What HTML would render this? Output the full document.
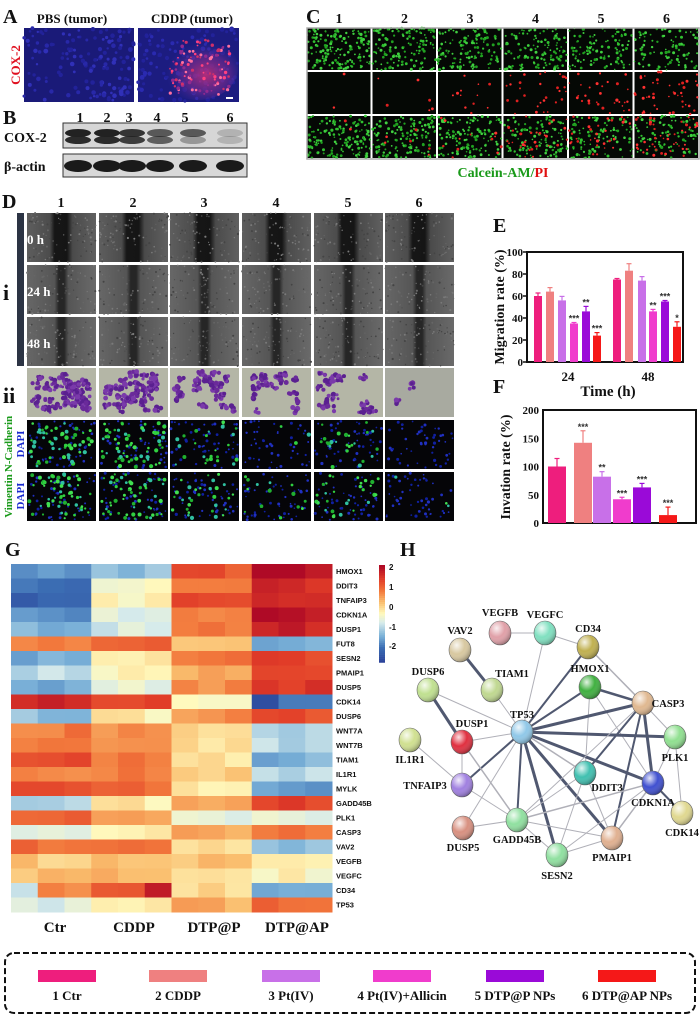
<!DOCTYPE html>
<html><head><meta charset="utf-8"><style>
html,body{margin:0;padding:0;background:#fff;}
svg{display:block;}
.L{font-family:"Liberation Serif",serif;font-weight:bold;}
.S{font-family:"Liberation Sans",sans-serif;font-weight:bold;}
</style></head><body>
<svg id="s" width="700" height="1018" viewBox="0 0 700 1018" xmlns="http://www.w3.org/2000/svg">
<defs>
<linearGradient id="wound" x1="0" x2="1" y1="0" y2="0">
<stop offset="0" stop-color="#5e5e5e"/><stop offset="0.33" stop-color="#4c4c4c"/><stop offset="0.4" stop-color="#161616"/><stop offset="0.58" stop-color="#151515"/><stop offset="0.66" stop-color="#4a4a4a"/><stop offset="1" stop-color="#606060"/></linearGradient>
<linearGradient id="wound2" x1="0" x2="1" y1="0" y2="0">
<stop offset="0" stop-color="#676767"/><stop offset="0.4" stop-color="#555"/><stop offset="0.46" stop-color="#262626"/><stop offset="0.54" stop-color="#262626"/><stop offset="0.6" stop-color="#555"/><stop offset="1" stop-color="#6a6a6a"/></linearGradient>
<radialGradient id="rred" cx="0.6" cy="0.6" r="0.5"><stop offset="0" stop-color="#c03078" stop-opacity="0.9"/><stop offset="0.6" stop-color="#702a90" stop-opacity="0.6"/><stop offset="1" stop-color="#2a2a9a" stop-opacity="0"/></radialGradient>
<radialGradient id="ball" cx="0.35" cy="0.3" r="0.75"><stop offset="0" stop-color="#fff" stop-opacity="0.85"/><stop offset="0.5" stop-color="#fff" stop-opacity="0"/><stop offset="1" stop-color="#000" stop-opacity="0.35"/></radialGradient>
</defs>
<g id="root"></g>
</svg>
<script>
var R=document.getElementById('root'),NS='http://www.w3.org/2000/svg';
function el(t,a,txt,p){var e=document.createElementNS(NS,t);for(var k in a)e.setAttribute(k,a[k]);if(txt!=null)e.textContent=txt;(p||R).appendChild(e);return e;}
function T(x,y,s,size,o){o=o||{};var a={x:x,y:y,'font-size':size,'class':o.c||'L',fill:o.f||'#111'};if(o.a)a['text-anchor']=o.a;if(o.tr)a.transform=o.tr;return el('text',a,s);}
var seed=7;function rnd(){seed=(seed*16807)%2147483647;return seed/2147483647;}
function dots(x,y,w,h,n,col,r){for(var i=0;i<n;i++)el('circle',{cx:(x+rnd()*w).toFixed(1),cy:(y+rnd()*h).toFixed(1),r:(r*(0.6+rnd()*0.6)).toFixed(1),fill:col[Math.floor(rnd()*col.length)]});}
// A
T(3,23,'A',20);T(72,23,'PBS (tumor)',13,{a:'middle'});T(192,23,'CDDP (tumor)',13,{a:'middle'});
el('rect',{x:24,y:28,width:110,height:74,fill:'#1a1a78'});dots(24,28,110,74,140,['#2828a8','#22229a','#3030b8'],2);
el('rect',{x:138,y:28,width:101,height:74,fill:'#1c1c80'});dots(138,28,101,74,120,['#2a2ab0','#22229a'],2);
el('ellipse',{cx:198,cy:68,rx:40,ry:32,fill:'url(#rred)'});dots(170,40,60,55,110,['#ff4080','#d0306a','#ff70a0','#902a90'],1.5);
el('rect',{x:226,y:97,width:7,height:2,fill:'#fff'});
T(0,0,'COX-2',13,{f:'#e01020',a:'middle',tr:'translate(20,65) rotate(-90)'});
// B
T(3,124,'B',20);var ln=[80,107,129,157,185,230];ln.forEach(function(x,i){T(x,122,''+(i+1),14,{a:'middle'});});
el('rect',{x:63,y:123,width:184,height:25,fill:'#d6d6d6',stroke:'#333','stroke-width':1});
el('rect',{x:63,y:154,width:184,height:23,fill:'#d8d8d8',stroke:'#333','stroke-width':1});
var bc=[78,107,132,160,193,230],ba=[1,1,0.9,0.7,0.7,0.2];
bc.forEach(function(x,i){el('ellipse',{cx:x,cy:133,rx:13,ry:4,fill:'#222','fill-opacity':ba[i]});el('ellipse',{cx:x,cy:140,rx:13,ry:4,fill:'#222','fill-opacity':ba[i]*(i==4?0.5:0.95)});el('ellipse',{cx:x,cy:166,rx:14,ry:6,fill:'#1a1a1a'});});
T(4,142,'COX-2',14);T(4,171,'β-actin',14);
// C
T(306,23,'C',20);
for(var c=0;c<6;c++){T(339+c*65.5,23,''+(c+1),14,{a:'middle'});
 for(var r=0;r<3;r++){var x=307+c*65.5,y=28+r*44,w=63.5,h=42;el('rect',{x:x,y:y,width:w,height:h,fill:'#050805'});
  if(r!=1)dots(x,y,w,h,150-c*12,['#30c030','#20a020','#40d040'],1.3);
  if(r>0)dots(x,y,w,h,[2,6,12,30,30,45][c],['#e02020','#ff3030'],1.3);}}
el('rect',{x:307,y:28,width:392,height:131,fill:'none',stroke:'#aaa','stroke-width':1.5});
el('text',{x:503,y:177,'font-size':14,'class':'L','text-anchor':'middle'}).innerHTML='<tspan fill="#1a9a1a">Calcein-AM/</tspan><tspan fill="#e01010">PI</tspan>';
// D
T(2,208,'D',20);var dc=[27,99,170,242,314,385],dw=69;
dc.forEach(function(x,i){T(x+34,207,''+(i+1),14,{a:'middle'});});
el('rect',{x:17,y:213,width:7,height:153,fill:'#2c3444'});
var rows=[213,265,317,368,420,472];
dc.forEach(function(x,i){for(var r=0;r<6;r++){var y=rows[r],h=49;
 if(r<3){el('rect',{x:x,y:y,width:dw,height:h,fill:r==0?'url(#wound)':'url(#wound2)'});dots(x,y,dw,h,90,['#7a7a7a','#444','#666'],0.9);}
 else if(r==3){el('rect',{x:x,y:y,width:dw,height:h,fill:i==5?'#a8aaa0':'#b4b6a6'});var n=[40,34,22,18,18,2][i];for(var j=0;j<n;j++){var cx=x+7+rnd()*(dw-14),cy=y+6+rnd()*(h-12);dots(cx-4,cy-3,8,6,5,['#6a2a9a','#7a3aaa','#5a2090'],2.3);}}
 else{el('rect',{x:x,y:y,width:dw,height:h,fill:'#050508'});dots(x+1,y+1,dw-2,h-2,50,['#2030c0','#1020a0'],1.3);
  dots(x+2,y+2,dw-4,h-4,(r==4?[60,60,25,3,25,0]:[60,55,30,15,30,3])[i],['#30d040','#40e050','#20b030','#30c0a0'],1.8);}
}});
T(27,244,'0 h',13,{f:'#fff'});T(27,296,'24 h',13,{f:'#fff'});T(27,348,'48 h',13,{f:'#fff'});
T(3,300,'i',22);T(3,403,'ii',22);
T(0,0,'N-Cadherin',11,{f:'#1a9a1a',a:'middle',tr:'translate(12,444) rotate(-90)'});T(0,0,'DAPI',11,{f:'#1a2ad0',a:'middle',tr:'translate(24,444) rotate(-90)'});
T(0,0,'Vimentin',11,{f:'#1a9a1a',a:'middle',tr:'translate(12,496) rotate(-90)'});T(0,0,'DAPI',11,{f:'#1a2ad0',a:'middle',tr:'translate(24,496) rotate(-90)'});
var CL=['#ee1e7d','#ef8080','#c870e8','#f03ccc','#9a0ad8','#f51818'];
// E
T(493,232,'E',20);
el('rect',{x:527,y:252,width:156,height:110,fill:'none',stroke:'#111','stroke-width':2});
[0,20,40,60,80,100].forEach(function(v){var y=362-v*1.1;T(523,y+4,''+v,11,{a:'end'});el('line',{x1:523,x2:527,y1:y,y2:y,stroke:'#111','stroke-width':1.5});});
T(0,0,'Migration rate (%)',14,{a:'middle',tr:'translate(504,307) rotate(-90)'});
var e24=[60,64,56,35,46,24],e48=[75,83,74,46,55,32],x24=[538,550,562,574,586,597],x48=[617,629,642,653,665,677];
var s24=['','','','***','**','***'],s48=['','','','**','***','*'];
function bar(x,v,col,w,scale,base,err,star){var h=v*scale;el('rect',{x:x-w/2,y:base-h,width:w,height:h,fill:col});el('line',{x1:x,x2:x,y1:base-h,y2:base-h-err,stroke:col,'stroke-width':1.2});el('line',{x1:x-2.5,x2:x+2.5,y1:base-h-err,y2:base-h-err,stroke:col,'stroke-width':1.2});if(star)T(x,base-h-err-1,star,9,{a:'middle',f:'#333',c:'S'});}
for(var i=0;i<6;i++){bar(x24[i],e24[i],CL[i],8,1.1,362,[3,4,4,1,5,3][i],s24[i]);bar(x48[i],e48[i],CL[i],8,1.1,362,[1,7,4,2,1,5][i],s48[i]);}
T(568,381,'24',13,{a:'middle'});T(648,381,'48',13,{a:'middle'});T(608,396,'Time (h)',15,{a:'middle'});
// F
T(493,393,'F',20);
el('rect',{x:543,y:410,width:153,height:113,fill:'none',stroke:'#111','stroke-width':2});
[0,50,100,150,200].forEach(function(v){var y=523-v*0.565;T(539,y+4,''+v,11,{a:'end'});});
T(0,0,'Invation rate (%)',14,{a:'middle',tr:'translate(510,467) rotate(-90)'});
var fv=[100,142,82,42,63,14],fx=[557,583,602,622,642,668],fs=['','***','**','***','***','***'],fe=[8,12,5,2,4,8];
for(var i=0;i<6;i++)bar(fx[i],fv[i],CL[i],18,0.565,523,fe[i],fs[i]);
// G
T(5,556,'G',20);
var genes=['HMOX1','DDIT3','TNFAIP3','CDKN1A','DUSP1','FUT8','SESN2','PMAIP1','DUSP5','CDK14','DUSP6','WNT7A','WNT7B','TIAM1','IL1R1','MYLK','GADD45B','PLK1','CASP3','VAV2','VEGFB','VEGFC','CD34','TP53'];
var V=[[-1.2,-0.8,1.3,2],[-1.5,0,1,1.7],[-1.7,0,1.3,1.6],[-1.2,-0.3,0.8,2],[-1,-0.4,1,1.8],[1,1.1,0.4,-1],[-1,0.2,1,1.4],[-0.6,0.1,0.7,1.4],[-1,-0.2,0.9,1.6],[1.7,1.5,0.1,-2],[-0.8,0.1,0.8,1.4],[1,0.9,0.2,-0.6],[1.1,0.9,0.2,-0.6],[1.3,1,0.2,-1],[0.9,0.9,0.3,-0.6],[1.4,1.1,0.1,-1.1],[-0.6,0.1,0.7,1.4],[1.1,0.7,-0.2,-0.2],[-0.3,0.1,0.6,1.1],[1.1,1.1,0.2,-0.9],[0.4,0.6,0.5,0.1],[0.5,0.6,0.2,0],[0.9,1.3,0.3,-1],[-0.4,0.1,0.6,1.2]];
var stops=[[-2.2,[40,60,150]],[-1.5,[60,110,180]],[-1,[120,175,215]],[-0.4,[215,235,235]],[0,[255,250,190]],[0.5,[250,190,110]],[1,[242,120,60]],[1.5,[225,60,40]],[2.1,[175,10,38]]];
function cmap(v){if(v<=stops[0][0])return 'rgb('+stops[0][1]+')';for(var i=1;i<stops.length;i++){if(v<=stops[i][0]){var a=stops[i-1],b=stops[i],t=(v-a[0])/(b[0]-a[0]);return 'rgb('+[0,1,2].map(function(k){return Math.round(a[1][k]+(b[1][k]-a[1][k])*t);})+')';}}return 'rgb('+stops[stops.length-1][1]+')';}
var hx=11,hy=564,cw=26.75,rh=14.5;
for(var r=0;r<24;r++){for(var c=0;c<12;c++){var g=Math.floor(c/3),v=V[r][g]+(rnd()-0.5)*0.35;if(r==22&&c==0)v=-0.5;if(r==22&&c==5)v=1.9;if(r==9&&g==3&&c>9)v=-1.4;
 el('rect',{x:hx+c*cw,y:hy+r*rh,width:cw+0.5,height:rh+0.5,fill:cmap(v)});}
 T(336,hy+r*rh+10,genes[r],7.5,{c:'S'});}
for(var i=0;i<50;i++)el('rect',{x:379,y:565+i*1.95,width:6,height:2.2,fill:cmap(2.1-i*4.2/49)});
[['2',570],['1',590],['0',610],['-1',630],['-2',649]].forEach(function(a){T(389,a[1],a[0],8,{c:'S'});});
T(55,932,'Ctr',15,{a:'middle'});T(134,932,'CDDP',15,{a:'middle'});T(214,932,'DTP@P',15,{a:'middle'});T(297,932,'DTP@AP',15,{a:'middle'});
// H
T(400,556,'H',20);
var N={VEGFB:[500,633,'#e0a0a8',0,-17],VEGFC:[545,633,'#80e0c0',0,-15],CD34:[588,647,'#c0b050',0,-15],VAV2:[460,650,'#d8c8a0',0,-16],DUSP6:[428,690,'#c0e090',0,-15],TIAM1:[492,690,'#c0d890',20,-13],HMOX1:[590,687,'#40b040',0,-15],CASP3:[643,703,'#e0b890',25,4],TP53:[522,732,'#90c8e8',0,-14],DUSP1:[462,742,'#e03040',10,-15],IL1R1:[410,740,'#d0e090',0,23],PLK1:[675,737,'#90e090',0,24],TNFAIP3:[462,785,'#a080e0',-37,4],DDIT3:[585,773,'#40c0b0',22,18],CDKN1A:[653,783,'#4050d0',0,23],CDK14:[682,813,'#e0d890',0,23],DUSP5:[463,828,'#d89080',0,23],GADD45B:[517,820,'#90e0a0',0,23],SESN2:[557,855,'#90e0a0',0,24],PMAIP1:[612,838,'#e0b090',0,23]};
var E=[['VEGFB','VEGFC',1],['VEGFC','CD34',1],['VEGFC','TP53',1],['CD34','TP53',2],['CD34','CASP3',1.5],['VAV2','TIAM1',3],['DUSP6','DUSP1',3],['DUSP6','TP53',1],['TIAM1','TP53',1],['HMOX1','TP53',2],['HMOX1','CASP3',2.5],['HMOX1','DDIT3',1],['HMOX1','CDKN1A',1],['TP53','CASP3',3],['TP53','PLK1',3],['TP53','CDKN1A',3],['TP53','DDIT3',1.5],['TP53','GADD45B',2],['TP53','SESN2',3],['TP53','PMAIP1',3],['TP53','DUSP1',1],['TP53','TNFAIP3',2],['TP53','DUSP5',1],['DUSP1','TNFAIP3',1],['DUSP1','GADD45B',1.5],['IL1R1','TNFAIP3',1],['CASP3','PLK1',1],['CASP3','CDKN1A',3],['CASP3','DDIT3',2],['CASP3','PMAIP1',2],['CASP3','GADD45B',1],['CDKN1A','PLK1',1],['CDKN1A','CDK14',2],['CDKN1A','GADD45B',1.5],['CDKN1A','SESN2',1],['CDKN1A','PMAIP1',1.5],['DDIT3','SESN2',1],['DDIT3','PMAIP1',1],['GADD45B','PMAIP1',1],['GADD45B','SESN2',1],['TNFAIP3','GADD45B',1],['DUSP5','GADD45B',1],['DDIT3','GADD45B',1],['PLK1','CDK14',1],['SESN2','PMAIP1',1]];
E.forEach(function(e){var a=N[e[0]],b=N[e[1]];el('line',{x1:a[0],y1:a[1],x2:b[0],y2:b[1],stroke:e[2]>1.7?'#505870':'#b0b0b8','stroke-width':e[2]});});
for(var k in N){var n=N[k];el('ellipse',{cx:n[0],cy:n[1],rx:11,ry:12,fill:n[2],stroke:'#666','stroke-width':0.6});el('ellipse',{cx:n[0],cy:n[1],rx:11,ry:12,fill:'url(#ball)'});T(n[0]+n[3],n[1]+n[4],k,10.5,{a:'middle'});}
// legend
el('rect',{x:5,y:953,width:690,height:60,rx:9,fill:'none',stroke:'#111','stroke-width':2,'stroke-dasharray':'6,3'});
var LX=[38,149,262,373,486,598],LN=['1 Ctr','2 CDDP','3 Pt(IV)','4 Pt(IV)+Allicin','5 DTP@P NPs','6 DTP@AP NPs'];
for(var i=0;i<6;i++){el('rect',{x:LX[i],y:970,width:58,height:12,fill:CL[i]});T(LX[i]+29,1000,LN[i],13,{a:'middle'});}
</script>
</body></html>
